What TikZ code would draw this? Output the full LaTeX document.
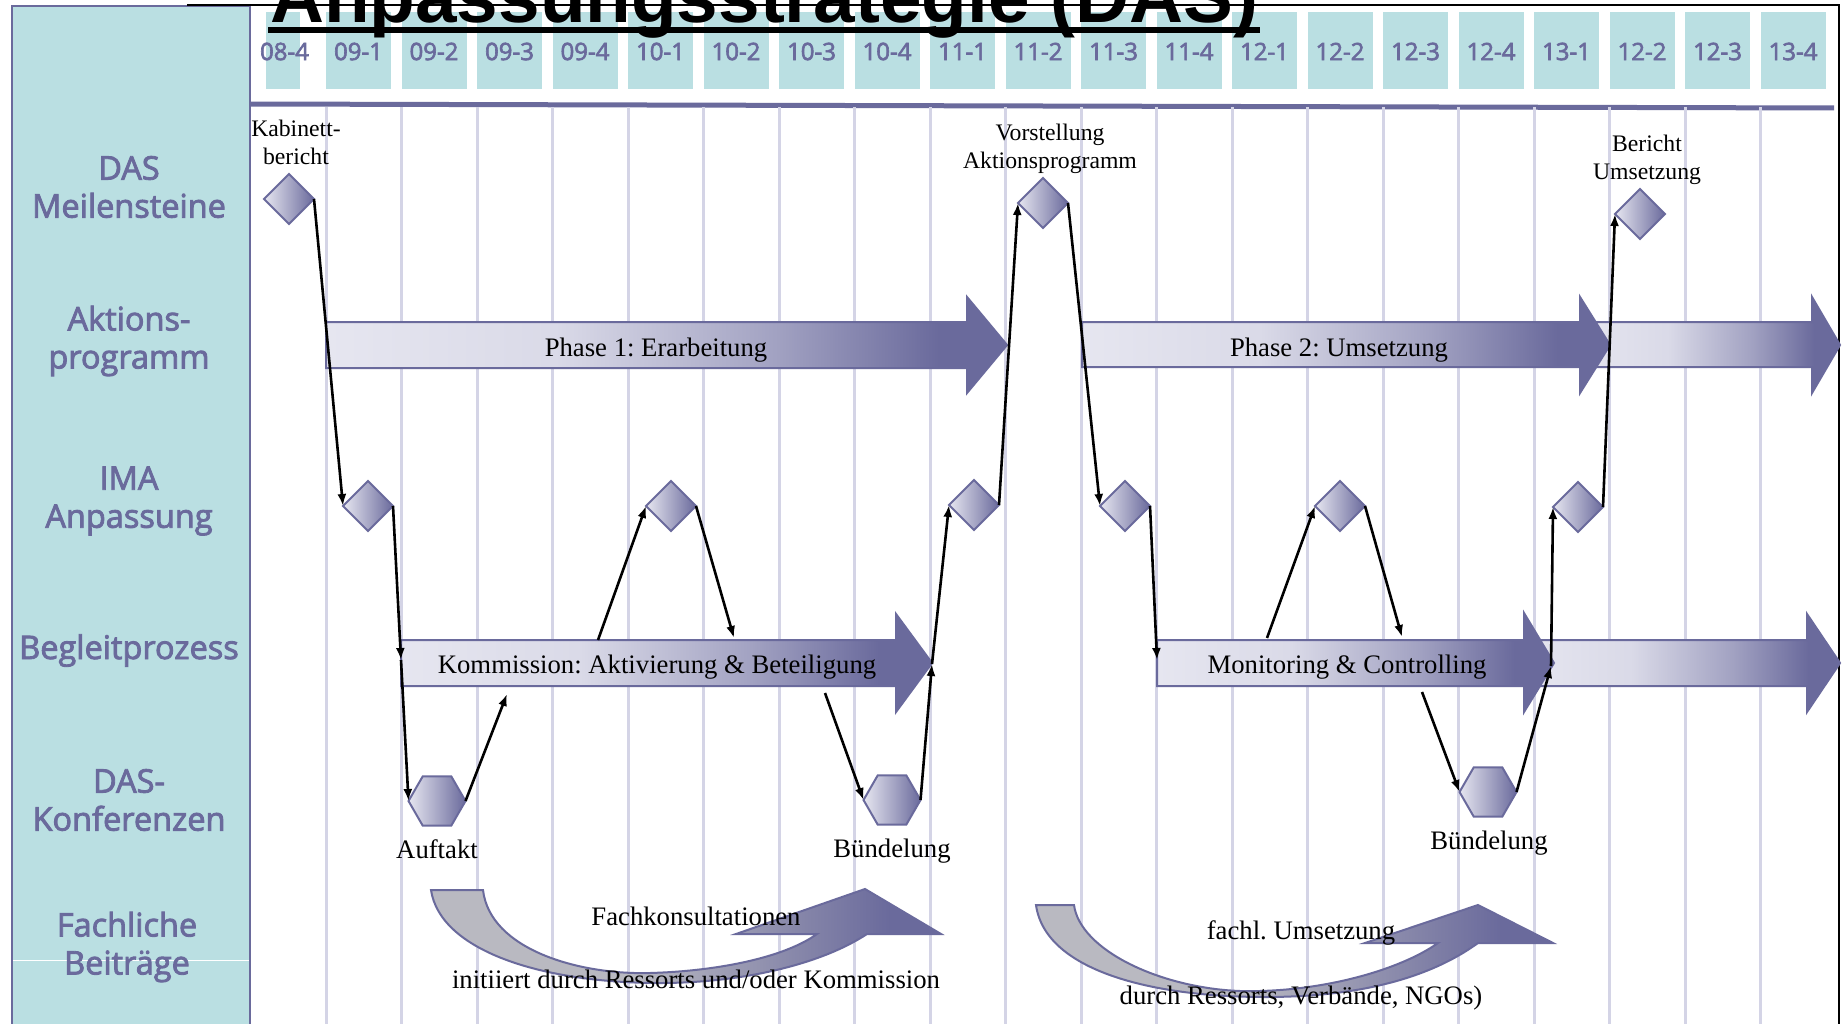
\documentclass[tikz,border=0pt]{standalone}
\usepackage{fontspec}
\setmainfont{Liberation Serif}
\newfontfamily\lanefont[FakeBold=2.6]{Open Sans}
\newfontfamily\headfont{Liberation Sans}
\usetikzlibrary{arrows.meta,shapes.geometric,calc}
\frenchspacing

\definecolor{panelteal}{HTML}{BADFE2}
\definecolor{dasviolet}{HTML}{6A6A9C}
\definecolor{gridlilac}{HTML}{D4D4E6}
\definecolor{palelilac}{HTML}{E6E6F0}
\definecolor{arcgrey}{HTML}{B9B9C1}
\colorlet{barmidA}{palelilac!90!dasviolet}
\colorlet{barmidB}{palelilac!45!dasviolet}

% colour runs for the long phase bars and for the bent arrows
\pgfdeclarehorizontalshading{barshade}{100bp}{color(0bp)=(palelilac); color(25bp)=(palelilac); color(42bp)=(barmidA); color(58bp)=(barmidB); color(70bp)=(dasviolet); color(100bp)=(dasviolet)}
\pgfdeclarehorizontalshading{arcshade}{100bp}{color(0bp)=(arcgrey); color(25bp)=(arcgrey); color(45bp)=(arcgrey); color(70bp)=(dasviolet); color(100bp)=(dasviolet)}

\tikzset{
  milestone/.style={diamond, draw=dasviolet, line width=2pt, left color=palelilac, right color=dasviolet,
    minimum width=50pt, minimum height=50pt, inner sep=0pt, outer sep=0pt},
  conference/.style={regular polygon, regular polygon sides=6, draw=dasviolet, line width=2pt,
    left color=palelilac, right color=dasviolet, minimum size=57pt, inner sep=0pt, outer sep=0pt},
  flow/.style={draw=black, line width=2.6pt, -{Latex[length=12pt,width=9pt]}},
  phasebar/.style={shading=barshade, draw=dasviolet, line width=2pt},
  bendarrow/.style={shading=arcshade, draw=dasviolet, line width=2pt},
  lane/.style={font=\lanefont\fontsize{32.5}{38}\selectfont, text=dasviolet, align=center, inner sep=0pt},
  datelab/.style={font=\lanefont\fontsize{24}{24}\selectfont, text=dasviolet, inner sep=0pt},
  bartext/.style={font=\fontsize{26.7}{30}\selectfont, inner sep=0pt, anchor=base},
  mslabel/.style={font=\fontsize{23.7}{28}\selectfont, align=center, inner sep=0pt},
  gridline/.style={draw=gridlilac, line width=3pt},
}

\begin{document}
\begin{tikzpicture}[x=1pt,y=-1pt]
\useasboundingbox (0,0) rectangle (1843,1024);
\fill[white] (0,0) rectangle (1843,1024);

% row header panel
\draw[fill=panelteal, draw=dasviolet, line width=2.5pt] (12,6) rectangle (250,1030);
\draw[white, line width=1pt] (13,960) -- (249,960);
% outer frame
\draw[line width=2pt] (187,5) -- (1839,5) -- (1839,1030);

% quarter boxes
\fill[panelteal] (266,12) rectangle (300,89);
\node[datelab] (dq) at (284.5,51.5) {08-4};
\foreach \lab [count=\i from 0] in {09-1,09-2,09-3,09-4,10-1,10-2,10-3,10-4,11-1,11-2,11-3,11-4,12-1,12-2,12-3,12-4,13-1,12-2,12-3,13-4} {
  \pgfmathsetmacro\cx{358.5+75.5*\i}
  \fill[panelteal] ({\cx-32.5},12) rectangle ({\cx+32.5},89);
  \node[datelab] (d\i) at (\cx,51.5) {\lab};
}
\draw[dasviolet, line width=5pt] (250,104) -- (1834,108);

% quarter grid
\foreach \k in {0,...,19} \draw[gridline] ({326+75.5*\k},107) -- ({326+75.5*\k},1024);

% title
\node[font=\headfont\bfseries\fontsize{74.7}{80}\selectfont, anchor=base west, inner sep=0pt] (title) at (270,23) {Anpassungsstrategie (DAS)};
\fill ($(title.base west)+(-2,4)$) rectangle ($(title.base east)+(2,10)$);

% lane names
\node[lane] (l1) at (129,187) {DAS\\Meilensteine};
\node[lane] (l2) at (129,341) {Aktions-\\programm};
\node[lane] (l3) at (129,501) {IMA\\Anpassung};
\node[lane,anchor=base] (l4) at (129,659) {Begleitprozess};
\node[lane] (l5) at (129,800) {DAS-\\Konferenzen};
\node[lane] (l6) at (127,947) {Fachliche\\Beiträge};

% Aktionsprogramm phases
\path[phasebar] (1580,322) -- (1812,322) -- (1812,297) -- (1840,345) -- (1812,393) -- (1812,367) -- (1580,367) -- cycle;
\path[phasebar] (326,322) -- (967,322) -- (967,297) -- (1007,345) -- (967,393) -- (967,368) -- (326,368) -- cycle;
\path[phasebar] (1082,322) -- (1580,322) -- (1580,297) -- (1610,345) -- (1580,393) -- (1580,367) -- (1082,367) -- cycle;
\node[bartext] (p1) at (656,356) {Phase 1: Erarbeitung};
\node[bartext] (p2) at (1339,356) {Phase 2: Umsetzung};

% Begleitprozess bars
\path[phasebar] (1524,640) -- (1807,640) -- (1807,614) -- (1840,663) -- (1807,712) -- (1807,686) -- (1524,686) -- cycle;
\path[phasebar] (401,640) -- (896,640) -- (896,614) -- (932,663) -- (896,712) -- (896,686) -- (401,686) -- cycle;
\path[phasebar] (1157,640) -- (1524,640) -- (1524,613) -- (1554,663) -- (1524,712) -- (1524,686) -- (1157,686) -- cycle;
\node[bartext] (kom) at (657,673) {Kommission: Aktivierung \& Beteiligung};
\node[bartext] (mon) at (1347,673) {Monitoring \& Controlling};

% bent arrows for the expert contributions
\path[bendarrow] (431,890) -- (483,890) .. controls (490,950) and (580,975) .. (650,973)
  .. controls (720,971) and (785,957) .. (817,934) -- (736,934) -- (865,889) -- (941,934) -- (867,934)
  .. controls (820,965) and (740,983) .. (660,983) .. controls (540,983) and (440,950) .. (431,890) -- cycle;
\path[bendarrow] (1036,905) -- (1074,905) .. controls (1080,950) and (1160,988) .. (1240,991)
  .. controls (1320,993) and (1400,970) .. (1438,943) -- (1365,943) -- (1478,905) -- (1553,943) -- (1478,943)
  .. controls (1420,985) and (1340,997) .. (1265,997) .. controls (1150,997) and (1045,970) .. (1036,905) -- cycle;
\node[bartext] (fk) at (696,925) {Fachkonsultationen};
\node[bartext] (ini) at (696,988) {initiiert durch Ressorts und/oder Kommission};
\node[bartext] (fu) at (1301,939) {fachl. Umsetzung};
\node[bartext] (dr) at (1301,1004) {durch Ressorts, Verbände, NGOs)};

% milestones
\node[milestone] (kab) at (289,199) {};
\node[milestone] (vor) at (1043,203) {};
\node[milestone] (ber) at (1640,214) {};
\node[mslabel] (kabl) at (296,142) {Kabinett-\\bericht};
\node[mslabel] (vorl) at (1050,148.5) {Vorstellung\\Aktionsprogramm};
\node[mslabel] (berl) at (1647,159.5) {Bericht\\Umsetzung};

% IMA steps
\node[milestone] (ima1) at (368,506) {};
\node[milestone] (ima2) at (671,506) {};
\node[milestone] (ima3) at (974,505) {};
\node[milestone] (ima4) at (1125,506) {};
\node[milestone] (ima5) at (1340,506) {};
\node[milestone] (ima6) at (1578,507) {};

% conferences
\node[conference] (auf) at (437,801) {};
\node[conference] (bund1) at (892,800) {};
\node[conference] (bund2) at (1488,792) {};
\node[bartext] (aufl) at (437,858) {Auftakt};
\node[bartext] (bl1) at (892,857) {Bündelung};
\node[bartext] (bl2) at (1489,849) {Bündelung};

% docking points on the bars
\coordinate (komIn) at (401,660);
\coordinate (komUp) at (507,694);
\coordinate (komTopA) at (598,640);
\coordinate (komTopB) at (734,638);
\coordinate (komBot) at (825,693);
\coordinate (komTip) at (932,664);
\coordinate (monIn) at (1157,660);
\coordinate (monTopA) at (1267,638);
\coordinate (monTopB) at (1402,637);
\coordinate (monBot) at (1422,692);
\coordinate (monTip) at (1551,666);

% process flow
\draw[flow] (kab.east) -- (ima1.west);
\draw[flow] (ima1.east) -- (komIn);
\draw[flow] (komIn) -- (auf.west);
\draw[flow] (auf.east) -- (komUp);
\draw[flow] (komTopA) -- (ima2.west);
\draw[flow] (ima2.east) -- (komTopB);
\draw[flow] (komBot) -- (bund1.west);
\draw[flow] (bund1.east) -- (komTip);
\draw[flow] (komTip) -- (ima3.west);
\draw[flow] (ima3.east) -- (vor.west);
\draw[flow] (vor.east) -- (ima4.west);
\draw[flow] (ima4.east) -- (monIn);
\draw[flow] (monTopA) -- (ima5.west);
\draw[flow] (ima5.east) -- (monTopB);
\draw[flow] (monBot) -- (bund2.west);
\draw[flow] (bund2.east) -- (monTip);
\draw[flow] (monTip) -- (ima6.west);
\draw[flow] (ima6.east) -- (ber.west);
\end{tikzpicture}
\end{document}
